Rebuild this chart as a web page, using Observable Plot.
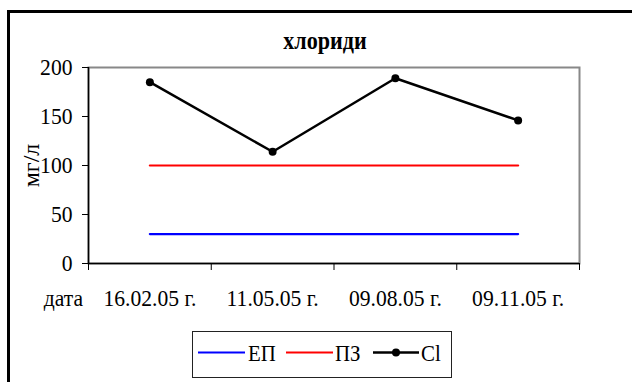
<!DOCTYPE html>
<html>
<head>
<meta charset="utf-8">
<script src="https://cdn.jsdelivr.net/npm/d3@7"></script>
<script src="https://cdn.jsdelivr.net/npm/@observablehq/plot@0.6"></script>
<style>
  html, body { margin: 0; padding: 0; background: #fff; overflow: hidden; }
  #wrap { position: relative; width: 632px; height: 382px; overflow: hidden; font-family: 'Liberation Serif'; }
  #border { position: absolute; left: 7px; top: 10px; width: 660px; height: 420px; border: 3px solid #000; box-sizing: border-box; }
  #chart { position: absolute; left: 0; top: 0; }
  #title { position: absolute; left: 225px; width: 200px; top: 26px; text-align: center; font-weight: bold; font-size: 26px; line-height: 30px; transform: scaleX(0.85); color: #000; font-family: 'Liberation Serif'; }
  #legend { position: absolute; left: 0; top: 0; }
  #chart svg text, #legend svg text { font-family: 'Liberation Serif' !important; }
</style>
</head>
<body>
<div id="wrap">
  <div id="border"></div>
  <div id="title"></div>
  <div id="chart"></div>
  <div id="legend"></div>
</div>
<script>
const title = "хлориди";
const yLabel = "мг/л";
const xLabel = "дата";
const dates = ["16.02.05 г.", "11.05.05 г.", "09.08.05 г.", "09.11.05 г."];
const ep = [30, 30, 30, 30];
const pz = [100, 100, 100, 100];
const cl = [185, 114, 189, 146];
const seriesNames = ["ЕП", "ПЗ", "Cl"];
const seriesColors = ["#0000ff", "#ff0000", "#000000"];
const yTicks = [0, 50, 100, 150, 200];

const FONT = "Liberation Serif";
document.getElementById("title").textContent = title;

const pos = dates.map((d, i) => i + 0.5);
const rows = (vals, name) => vals.map((v, i) => ({x: pos[i], y: v, name, date: dates[i]}));
const epRows = rows(ep, seriesNames[0]);
const pzRows = rows(pz, seriesNames[1]);
const clRows = rows(cl, seriesNames[2]);

const plot = Plot.plot({
  width: 632,
  height: 330,
  marginTop: 67,
  marginLeft: 88,
  marginRight: 53,
  marginBottom: 67,
  style: {fontFamily: FONT, fontSize: "24px", color: "#000", background: "transparent", overflow: "visible"},
  x: {domain: [0, dates.length]},
  y: {domain: [0, 200]},
  marks: [
    Plot.frame({stroke: "#888", strokeWidth: 2}),
    Plot.axisY({ticks: yTicks, tickSize: 6, tickPadding: 10, label: null, tickFormat: d => String(d)}),
    Plot.axisX({ticks: d3.range(dates.length + 1), tickSize: 7, tickFormat: () => "", label: null}),
    Plot.axisX({ticks: pos, tickSize: 0, tickPadding: 25, label: null, tickFormat: v => dates[Math.floor(v)]}),
    Plot.ruleX([0], {stroke: "#000", strokeWidth: 1.5}),
    Plot.ruleY([0], {stroke: "#000", strokeWidth: 1.5}),
    Plot.text([yLabel], {frameAnchor: "left", rotate: -90, dx: -57, textAnchor: "middle", lineAnchor: "middle", text: d => d, fontSize: 24}),
    Plot.text([xLabel], {frameAnchor: "bottom-left", dx: -25, dy: 25, textAnchor: "middle", lineAnchor: "top", text: d => d, fontSize: 24}),
    Plot.line(epRows, {x: "x", y: "y", stroke: seriesColors[0], strokeWidth: 2.2}),
    Plot.line(pzRows, {x: "x", y: "y", stroke: seriesColors[1], strokeWidth: 2.2}),
    Plot.line(clRows, {x: "x", y: "y", stroke: seriesColors[2], strokeWidth: 2.5}),
    Plot.dot(clRows, {x: "x", y: "y", r: 4, fill: seriesColors[2], stroke: "none"})
  ]
});
plot.setAttribute("font-family", FONT);

plot.querySelectorAll("text").forEach(t => {
  const tr = t.getAttribute("transform") || "";
  if (!/rotate/.test(tr)) t.setAttribute("transform", (tr + " scale(0.9,1)").trim());
});
document.getElementById("chart").appendChild(plot);

const ns = "http://www.w3.org/2000/svg";
const lg = document.createElementNS(ns, "svg");
lg.setAttribute("width", 632);
lg.setAttribute("height", 382);
const box = document.createElementNS(ns, "rect");
box.setAttribute("x", 192.5); box.setAttribute("y", 331.5);
box.setAttribute("width", 259); box.setAttribute("height", 46);
box.setAttribute("fill", "#fff"); box.setAttribute("stroke", "#222"); box.setAttribute("stroke-width", 1);
lg.appendChild(box);
const items = [
  {x0: 198, x1: 245, tx: 248},
  {x0: 286, x1: 333, tx: 335},
  {x0: 373, x1: 419, tx: 421}
];
seriesNames.forEach((name, i) => {
  const it = items[i];
  const ln = document.createElementNS(ns, "line");
  ln.setAttribute("x1", it.x0); ln.setAttribute("x2", it.x1);
  ln.setAttribute("y1", 352.5); ln.setAttribute("y2", 352.5);
  ln.setAttribute("stroke", seriesColors[i]); ln.setAttribute("stroke-width", i === 2 ? 2.5 : 2.2);
  lg.appendChild(ln);
  if (i === 2) {
    const c = document.createElementNS(ns, "circle");
    c.setAttribute("cx", (it.x0 + it.x1) / 2); c.setAttribute("cy", 352.5); c.setAttribute("r", 4);
    c.setAttribute("fill", "#000");
    lg.appendChild(c);
  }
  const tx = document.createElementNS(ns, "text");
  tx.setAttribute("transform", `translate(${it.tx},361) scale(0.87,1)`);
  tx.setAttribute("font-family", FONT);
  tx.setAttribute("font-size", 24);
  tx.setAttribute("fill", "#000");
  tx.textContent = name;
  lg.appendChild(tx);
});
document.getElementById("legend").appendChild(lg);
</script>
</body>
</html>
